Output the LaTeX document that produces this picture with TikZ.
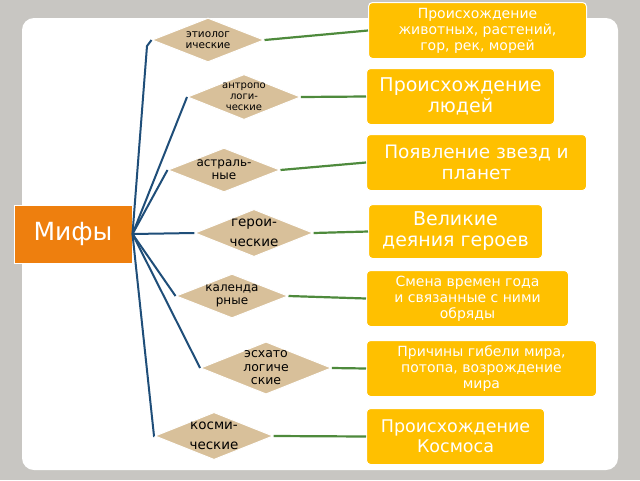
\documentclass[tikz,border=0pt]{standalone}
\usepackage{fontspec}
\setmainfont{DejaVu Sans}
\usetikzlibrary{shapes.geometric}
\definecolor{bx}{HTML}{FFC000}
\definecolor{mf}{HTML}{EE7F0E}
\definecolor{dm}{HTML}{D8C09A}
\definecolor{bl}{HTML}{1F4E79}
\definecolor{gr}{HTML}{4E8A3C}
\definecolor{bg}{HTML}{C8C6C2}
\tikzset{
 box/.style={fill=bx,draw=white,line width=1pt,rounded corners=4pt,text=white,align=center,inner sep=2pt,anchor=north west},
 dia/.style={diamond,fill=dm,draw=white,line width=1pt,aspect=2.5,minimum width=112pt,minimum height=44pt,inner sep=0pt,align=center,font=\fontsize{10.5}{11.5}\selectfont},
 bline/.style={draw=bl,line width=2pt},
 gline/.style={draw=gr,line width=2.2pt}
}
\begin{document}
\begin{tikzpicture}[x=1pt,y=-1pt]
\fill[bg] (0,0) rectangle (640,480);
\useasboundingbox (0,0) rectangle (640,480);
\fill[white,rounded corners=12pt] (22,18) rectangle (618,470);
\node[fill=mf,draw=white,line width=1pt,text=white,font=\fontsize{25}{27}\selectfont,minimum width=118pt,minimum height=58pt] (m) at (73,234) {Мифы};
\node[dia] (d1) at (208,40) {этиолог\\ические};
\node[dia,font=\fontsize{10}{11}\selectfont] (d2) at (244,97) {антропо\\логи-\\ческие};
\node[dia,font=\fontsize{12}{13}\selectfont] (d3) at (224,170) {астраль-\\ные};
\node[dia,font=\fontsize{13.5}{20}\selectfont] (d4) at (254,233) {герои-\\ческие};
\node[dia,font=\fontsize{12}{13}\selectfont] (d5) at (232,296) {календа\\рные};
\node[dia,font=\fontsize{12.5}{13.5}\selectfont] (d6) at (266,368) {эсхато\\логиче\\ские};
\node[dia,font=\fontsize{13.5}{20}\selectfont] (d7) at (214,436) {косми-\\ческие};
\node[box,font=\fontsize{14}{16}\selectfont,minimum width=218pt,minimum height=56pt] (b1) at (368,2) {Происхождение\\животных, растений,\\гор, рек, морей};
\node[box,font=\fontsize{19}{21}\selectfont,minimum width=188pt,minimum height=56pt] (b2) at (366,68) {Происхождение\\людей};
\node[box,font=\fontsize{18.5}{21}\selectfont,minimum width=220pt,minimum height=56pt] (b3) at (366,134) {Появление звезд и\\планет};
\node[box,font=\fontsize{19}{21}\selectfont,minimum width=174pt,minimum height=54pt] (b4) at (368,204) {Великие\\деяния героев};
\node[box,font=\fontsize{14}{16}\selectfont,minimum width=202pt,minimum height=56pt] (b5) at (366,270) {Смена времен года\\и  связанные с ними\\обряды};
\node[box,font=\fontsize{14}{16}\selectfont,minimum width=230pt,minimum height=56pt] (b6) at (366,340) {Причины гибели мира,\\потопа,  возрождение\\мира};
\node[box,font=\fontsize{17.5}{20}\selectfont,minimum width=178pt,minimum height=56pt] (b7) at (366,408) {Происхождение\\Космоса};
\coordinate (k1) at (147,46);
\coordinate (k7) at (154,436);
\draw[bline] (m.east) -- (k1) -- (d1.west);
\draw[bline] (m.east) -- (d2.west);
\draw[bline] (m.east) -- (d3.west);
\draw[bline] (m.east) -- (d4.west);
\draw[bline] (m.east) -- (d5.west);
\draw[bline] (m.east) -- (d6.west);
\draw[bline] (m.east) -- (k7) -- (d7.west);
\foreach \i in {1,...,7}{\draw[gline] (d\i.east) -- (b\i.west);}
\end{tikzpicture}
\end{document}
